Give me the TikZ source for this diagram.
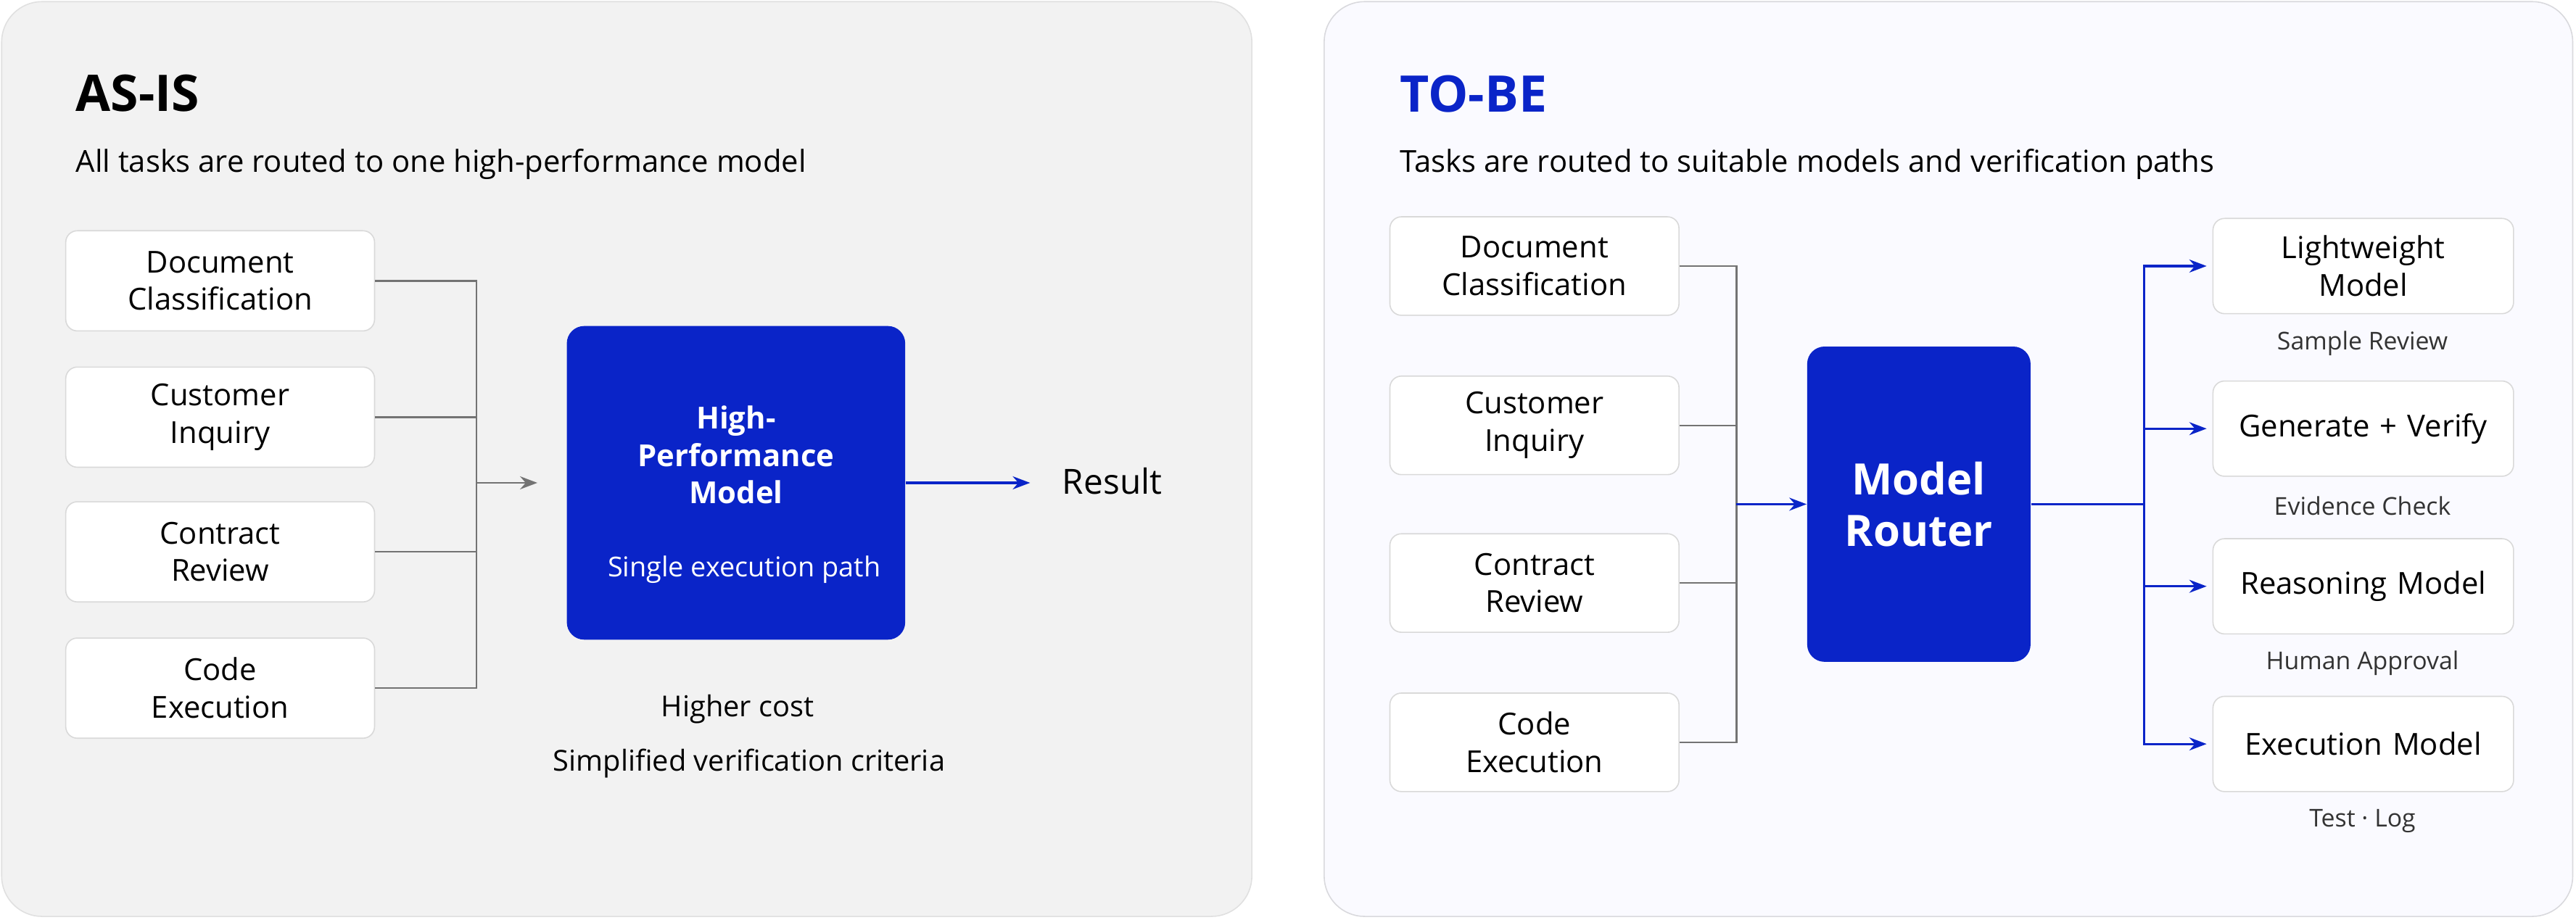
\documentclass[tikz,border=0pt]{standalone}
\usepackage{fontspec}
\setmainfont{Open Sans}
\usetikzlibrary{arrows.meta}
\definecolor{blu}{HTML}{0A24C8}
\definecolor{lgray}{HTML}{D9D9D9}
\tikzset{
  task/.style={draw=lgray, fill=white, rounded corners=4pt, align=center, font=\fontsize{10.5}{13}\selectfont, inner sep=0pt},
  core/.style={fill=blu, rounded corners=6pt, text=white, align=center, inner sep=0pt},
  note/.style={font=\fontsize{8.5}{10}\selectfont, text=black!80},
  wire/.style={draw=black!55, line width=0.6pt},
  bwire/.style={draw=blu, line width=0.8pt},
}
\begin{document}
\begin{tikzpicture}[x=0.02cm, y=-0.02cm]
\useasboundingbox (0,0) rectangle (1568,560);
% panels
\draw[fill=black!5, draw=black!12, rounded corners=14pt] (1,1) rectangle (762,558);
\draw[fill=blue!2!white, draw=blue!12!black!15, rounded corners=14pt] (806,1) rectangle (1566,558);

% AS-IS
\node[anchor=west, font=\fontsize{17.5}{20}\selectfont\bfseries] at (40,57) {AS-IS};
\node[anchor=west, font=\fontsize{10.5}{13}\selectfont] at (40,100) {All tasks are routed to one high-performance model};
\foreach \n/\y/\t in {a1/171/Document\\Classification, a2/254/Customer\\Inquiry, a3/336/Contract\\Review, a4/419/Code\\Execution}
  \node[task, text width=3.76cm, minimum height=1.22cm] (\n) at (134,\y) {\t};
\coordinate (ajoin) at (290,294);
\foreach \n in {a1,a2,a3,a4}
  \draw[wire] (\n.east) -| (ajoin);
\node[core, minimum width=4.12cm, minimum height=3.82cm] (hp) at (448,294) {};
\node[text=white, align=center, font=\fontsize{10.5}{13}\selectfont\bfseries] at (448,277) {High-\\Performance\\Model};
\node[text=white, font=\fontsize{9.5}{11}\selectfont] at (453,347) {Single execution path};
\draw[wire, -{Stealth[length=6pt]}] (ajoin) -- ([xshift=-10pt]hp.west);
\node (res) at (677,293) {\fontsize{12}{14}\selectfont Result};
\coordinate (rarr) at (627,294);
\draw[bwire, -{Stealth[length=6pt]}] (hp.east) -- (rarr);
\node[font=\fontsize{10}{12}\selectfont] at (449,432) {Higher cost};
\node[font=\fontsize{10}{12}\selectfont] at (456,465) {Simplified verification criteria};

% TO-BE
\node[anchor=west, text=blu, font=\fontsize{17.5}{20}\selectfont\bfseries] at (846,57) {TO-BE};
\node[anchor=west, font=\fontsize{10.5}{13}\selectfont] at (846,100) {Tasks are routed to suitable models and verification paths};
\foreach \n/\y/\t in {b1/162/Document\\Classification, b2/259/Customer\\Inquiry, b3/355/Contract\\Review, b4/452/Code\\Execution}
  \node[task, text width=3.52cm, minimum height=1.2cm] (\n) at (934,\y) {\t};
\coordinate (bjoin) at (1057,307);
\foreach \n in {b1,b2,b3,b4}
  \draw[wire] (\n.east) -| (bjoin);
\node[core, minimum width=2.72cm, minimum height=3.84cm, font=\fontsize{15}{18}\selectfont\bfseries] (mr) at (1168,307) {Model\\Router};
\draw[bwire, -{Stealth[length=6pt]}] (bjoin) -- (mr.west);
\coordinate (split) at (1305,307);
\draw[bwire] (mr.east) -- (split);
\foreach \n/\y/\t/\c in {m1/162/Lightweight\\Model/Sample Review, m2/261/Generate + Verify/Evidence Check, m3/357/Reasoning Model/Human Approval, m4/453/Execution Model/Test · Log}{
  \node[task, text width=3.66cm, minimum height=1.16cm] (\n) at (1438.5,\y) {\t};
  \node[note] at (1438,\y+47) {\c};
  \draw[bwire, -{Stealth[length=6pt]}] (split) |- ([xshift=-2pt]\n.west);
}
\end{tikzpicture}
\end{document}
